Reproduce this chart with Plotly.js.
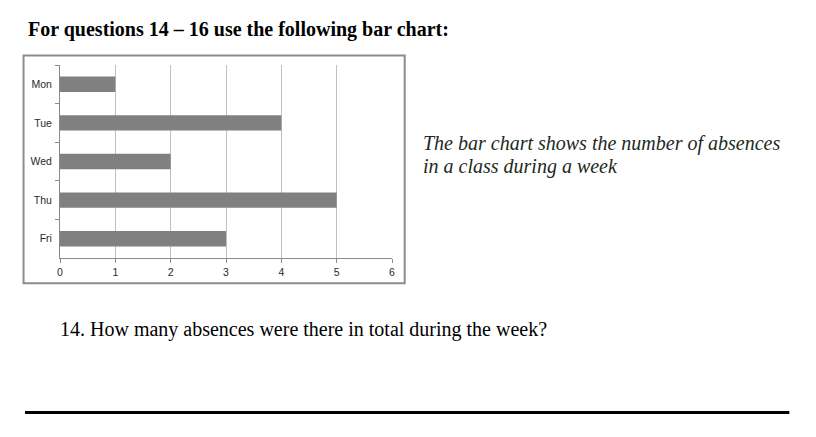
<!DOCTYPE html>
<html>
<head>
<meta charset="utf-8">
<script src="https://cdn.plot.ly/plotly-3.0.1.min.js"></script>
<style>
html,body{margin:0;padding:0;background:#fff;}
#chart{width:816px;height:437px;}
</style>
</head>
<body>
<div id="chart"></div>
<script>
var days = ["Mon", "Tue", "Wed", "Thu", "Fri"];
var absences = [1, 4, 2, 5, 3];
var xTicks = [0, 1, 2, 3, 4, 5, 6];

var W = 816, H = 437;
var L = 60, R = 392.3, T = 65, B = 258.3;
function px(x){ return (x - L) / (R - L); }
function py(y){ return (B - y) / (B - T); }

var trace = {
  type: "bar",
  orientation: "h",
  y: days,
  x: absences,
  marker: {color: "#808080", line: {width: 0}},
  hoverinfo: "none"
};

var serif = "Liberation Serif, Times New Roman, serif";
var sans = "Liberation Sans, Arial, sans-serif";

var layout = {
  width: W, height: H,
  margin: {l: L, r: W - R, t: T, b: H - B, pad: 0},
  paper_bgcolor: "#fff",
  plot_bgcolor: "#fff",
  showlegend: false,
  bargap: 0.6,
  xaxis: {
    range: [0, 6],
    tickvals: xTicks,
    ticktext: xTicks.map(String),
    showgrid: true,
    gridcolor: "#c0c0c0",
    gridwidth: 1,
    zeroline: false,
    showline: true,
    linecolor: "#8a8a8a",
    linewidth: 1,
    ticks: "outside",
    ticklen: 4,
    tickcolor: "#8a8a8a",
    tickfont: {family: sans, size: 10.5, color: "#2a2a2a"},
    fixedrange: true
  },
  yaxis: {
    type: "category",
    autorange: "reversed",
    tickson: "boundaries",
    showgrid: false,
    zeroline: false,
    showline: true,
    linecolor: "#8a8a8a",
    linewidth: 1,
    ticks: "outside",
    ticklen: 4,
    tickcolor: "#8a8a8a",
    tickfont: {family: sans, size: 10.5, color: "#2a2a2a"},
    ticklabelstandoff: 5,
    fixedrange: true
  },
  shapes: [
    {type: "rect", xref: "paper", yref: "paper",
     x0: px(23.5), x1: px(405), y0: py(55.5), y1: py(283.5),
     line: {color: "#8c8c8c", width: 2}, fillcolor: "rgba(0,0,0,0)", layer: "below"},
    {type: "line", xref: "paper", yref: "paper",
     x0: px(25), x1: px(790), y0: py(413), y1: py(413),
     line: {color: "#000", width: 3}}
  ],
  annotations: [
    {xref: "paper", yref: "paper", x: px(26), y: py(29), xanchor: "left", yanchor: "middle",
     text: "<b>For questions 14 – 16 use the following bar chart:</b>", showarrow: false,
     font: {family: serif, size: 20, color: "#000"}},
    {xref: "paper", yref: "paper", x: px(421), y: py(144), xanchor: "left", yanchor: "middle",
     text: "<i>The bar chart shows the number of absences</i>", showarrow: false,
     font: {family: serif, size: 20, color: "#1d2a22"}},
    {xref: "paper", yref: "paper", x: px(421), y: py(167), xanchor: "left", yanchor: "middle",
     text: "<i>in a class during a week</i>", showarrow: false,
     font: {family: serif, size: 20, color: "#1d2a22"}},
    {xref: "paper", yref: "paper", x: px(58), y: py(330), xanchor: "left", yanchor: "middle",
     text: "14. How many absences were there in total during the week?", showarrow: false,
     font: {family: serif, size: 20, color: "#000"}}
  ]
};

Plotly.newPlot("chart", [trace], layout, {displayModeBar: false, staticPlot: true});
</script>
</body>
</html>
